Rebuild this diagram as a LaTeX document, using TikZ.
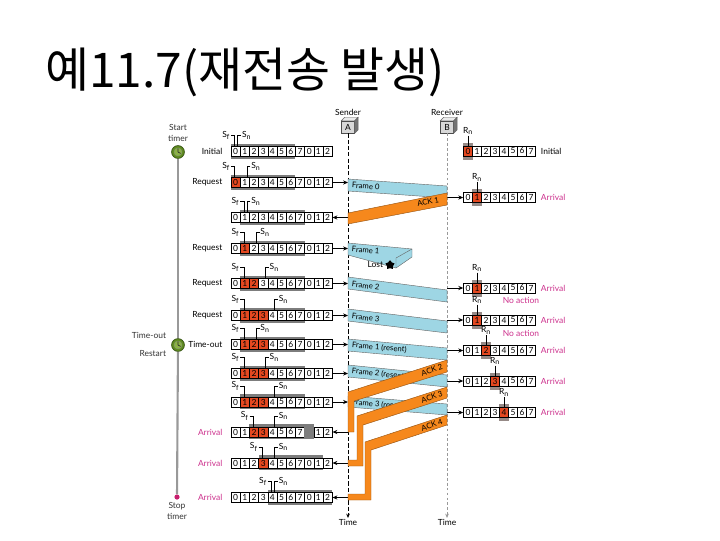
\documentclass[tikz,border=0pt]{standalone}
\usepackage{fontspec}
\setmainfont{Lato}
\newfontfamily\krfont{Noto Sans CJK KR}
\usepackage{tikz}
\usetikzlibrary{arrows.meta, shapes.geometric}
\definecolor{cellred}{RGB}{228,72,32}
\definecolor{wingray}{RGB}{125,125,125}
\definecolor{rngray}{RGB}{150,138,135}
\definecolor{framebl}{RGB}{158,214,228}
\definecolor{ackor}{RGB}{246,136,28}
\definecolor{arrpink}{RGB}{204,48,140}
\definecolor{tgreen}{RGB}{96,140,32}
\definecolor{tlight}{RGB}{140,178,70}
\definecolor{tdark}{RGB}{50,80,16}
\definecolor{boxgray}{RGB}{216,216,216}
\definecolor{stoppink}{RGB}{200,30,110}
\tikzset{
  cell/.style={rectangle, draw=black, fill=white, minimum width=0.23cm,
    minimum height=0.24cm, inner sep=0pt, line width=0.4pt,
    font=\fontsize{6}{7}\selectfont},
  rcell/.style={cell, minimum width=0.225cm},
  rowlbl/.style={anchor=east, font=\fontsize{6}{7}\selectfont, inner sep=1pt},
  ptr/.style={font=\fontsize{6}{7}\selectfont, inner sep=0.5pt},
  ptrline/.style={line width=0.4pt},
  arr/.style={-{Stealth[length=3.5pt,width=3pt]}, line width=0.6pt},
  framebar/.style={fill=framebl, draw=black!60, line width=0.3pt},
  ackbar/.style={fill=ackor, draw=black!40!ackor, line width=0.3pt},
  flbl/.style={anchor=west, font=\fontsize{5.5}{6}\selectfont, inner sep=0.5pt},
  albl/.style={font=\fontsize{5.5}{6}\selectfont, inner sep=0.5pt},
  side/.style={font=\fontsize{6}{7.8}\selectfont, align=center, inner sep=0.5pt, text=black!80},
  timer/.style={circle, fill=tgreen, draw=tdark, minimum size=0.32cm, inner sep=0pt, line width=0.5pt},
  hostbox/.style={rectangle, draw=black!70, fill=boxgray, minimum width=0.32cm,
    minimum height=0.3cm, inner sep=0pt, font=\fontsize{6}{7}\selectfont, line width=0.4pt},
  timeline/.style={draw=black!40, line width=1.5pt}
}
% sender window geometry (pixels)
\newcommand{\cx}{231}
\newcommand{\cw}{9.2}
% receiver window geometry
\newcommand{\rx}{463.5}
\newcommand{\rw}{9}
% #1 name, #2 y, #3 window start, #4-#5 red cells, #6 Sf, #7 Sn, #8 hidden cell
\newcommand{\sendrow}[8]{%
  \fill[wingray] ({\cx+#3*\cw},#2-8) rectangle ({\cx+(#3+7)*\cw},#2+7);
  \foreach \i in {0,...,10}{%
    \pgfmathtruncatemacro{\d}{mod(\i,8)}%
    \def\cf{white}\def\cd{black}%
    \ifnum\i<#4\relax\else\ifnum\i>#5\relax\else\def\cf{cellred}\fi\fi
    \ifnum\i=#8\relax\def\cf{wingray}\def\cd{wingray}\def\d{}\fi
    \node[cell, fill=\cf, draw=\cd] (#1-\i) at ({\cx+(\i+0.5)*\cw},#2) {\d};
  }%
  \node[ptr, anchor=east] (#1sf) at ({\cx+(#6+0.5)*\cw-4.5},#2-16) {S\textsubscript{f}};
  \node[ptr, anchor=west] (#1sn) at ({\cx+(#7+0.5)*\cw+5.5},#2-16) {S\textsubscript{n}};
  \draw[ptrline] (#1sf.east) -| ({\cx+(#6+0.5)*\cw-1},#2-5);
  \draw[ptrline] (#1sn.west) -| ({\cx+(#7+0.5)*\cw+2},#2-5);
}
% #1 name, #2 y, #3 Rn, #4 label, #5 label colour
\newcommand{\recvrow}[5]{%
  \fill[rngray] ({\rx+#3*\rw-0.5},#2-8.5) rectangle ({\rx+(#3+1)*\rw+0.5},#2+8.5);
  \foreach \i in {0,...,7}{%
    \def\cf{white}\ifnum\i=#3\relax\def\cf{cellred}\fi
    \node[rcell, fill=\cf] (#1-\i) at ({\rx+(\i+0.5)*\rw},#2) {\i};
  }%
  \node[ptr] (#1rn) at ({\rx+(#3+0.5)*\rw},#2-20) {R\textsubscript{n}};
  \draw[ptrline] (#1rn.south) -- (#1rn.south |- #1-#3.north);
  \node[ptr, anchor=west, text=#5] (#1lbl) at (540,#2) {#4};
}
% #1 name, #2 position
\newcommand{\timer}[2]{%
  \node[timer] (#1) at #2 {};
  \draw[fill=tlight, draw=tdark!60, line width=0.3pt] (#1.center) circle (0.1cm);
  \draw[black!85, line width=0.5pt] (#1.center) -- ++(0,-3.6) (#1.center) -- ++(2.6,1.4);
}

\begin{document}
\begin{tikzpicture}[x=0.025cm, y=-0.025cm]
  \useasboundingbox (0,0) rectangle (720,540);

  \node[anchor=base west, inner sep=0pt, font=\krfont\fontsize{34}{38}\selectfont] (title) at (45,87) {예11.7(재전송 발생)};

  % timer on the left
  \node[side] (st) at (178,133) {Start\\timer};
  \timer{t1}{(178,152)}
  \timer{t2}{(178,345)}
  \node[circle, fill=stoppink, inner sep=0pt, minimum size=0.13cm] (t3) at (177,497) {};
  \node[side] (sp) at (177,511) {Stop\\timer};
  \node[side, anchor=east] (to) at (167,335) {Time-out};
  \node[side, anchor=east] (rs) at (167,354) {Restart};
  \draw[timeline] (t1) -- (t2);
  \draw[timeline] (t2) -- (t3);

  % stations
  \node[hostbox] (A) at (348,127) {A};
  \node[hostbox] (B) at (447,127) {B};
  \foreach \h in {A,B}{
    \fill[white!92!black, draw=black!60, line width=0.3pt] (\h.north west) -- ++(3.5,-3.5) -- ([shift={(3.5,-3.5)}]\h.north east) -- (\h.north east) -- cycle;
    \fill[black!55, draw=black!60, line width=0.3pt] (\h.north east) -- ++(3.5,-3.5) -- ([shift={(3.5,-3.5)}]\h.south east) -- (\h.south east) -- cycle;
  }
  \node[ptr] (sname) at (348,112) {Sender};
  \node[ptr] (rname) at (447,112) {Receiver};
  \node[ptr] (tA) at (348,522) {Time};
  \node[ptr] (tB) at (447,522) {Time};
  \draw[line width=0.7pt, dash pattern=on 3pt off 1.5pt, -{Stealth[length=3pt,width=2.6pt]}] (A.south) -- (tA.north);
  \draw[black!40, line width=0.4pt, dash pattern=on 2pt off 1.5pt, -{Stealth[length=3pt,width=2.6pt]}] (B.south) -- (tB.north);
  \coordinate (sl) at (348,0);
  \coordinate (rl) at (447,0);

  % sender windows
  \sendrow{s1}{151.5}{0}{99}{-1}{0}{0}{-1}
  \sendrow{s2}{182.5}{0}{0}{0}{0}{1}{-1}
  \sendrow{s3}{217.5}{1}{99}{-1}{1}{1}{-1}
  \sendrow{s4}{248.5}{1}{1}{1}{1}{2}{-1}
  \sendrow{s5}{283.5}{1}{1}{2}{1}{3}{-1}
  \sendrow{s6}{315.5}{1}{1}{3}{1}{4}{-1}
  \sendrow{s7}{344.5}{1}{1}{3}{1}{2}{-1}
  \sendrow{s8}{373.5}{1}{1}{3}{1}{3}{-1}
  \sendrow{s9}{402}{1}{1}{3}{1}{4}{-1}
  \sendrow{s10}{432}{2}{2}{3}{2}{4}{8}
  \sendrow{s11}{463}{3}{3}{3}{3}{4}{-1}
  \sendrow{s12}{497.5}{4}{99}{-1}{4}{4}{-1}

  \node[rowlbl] (l1) at (224,151.5) {Initial};
  \node[rowlbl] (l2) at (224,182.5) {Request};
  \node[rowlbl] (l4) at (224,248.5) {Request};
  \node[rowlbl] (l5) at (224,283.5) {Request};
  \node[rowlbl] (l6) at (224,315.5) {Request};
  \node[rowlbl] (l7) at (224,344.5) {Time-out};
  \node[rowlbl, text=arrpink] (l10) at (224,432) {Arrival};
  \node[rowlbl, text=arrpink] (l11) at (224,463) {Arrival};
  \node[rowlbl, text=arrpink] (l12) at (224,497.5) {Arrival};

  \foreach \r in {2,4,5,6,7,8,9}
    \draw[arr] (s\r-10.east) -- (s\r-10.east -| sl);
  \foreach \r in {3,10,11,12}
    \draw[arr] (s\r-10.east -| sl) -- (s\r-10.east);

  % receiver windows
  \recvrow{r1}{151}{0}{Initial}{black}
  \recvrow{r2}{197.5}{1}{Arrival}{arrpink}
  \recvrow{r3}{288}{1}{Arrival}{arrpink}
  \recvrow{r4}{320}{1}{Arrival}{arrpink}
  \recvrow{r5}{350.5}{2}{Arrival}{arrpink}
  \recvrow{r6}{381}{3}{Arrival}{arrpink}
  \recvrow{r7}{412.5}{4}{Arrival}{arrpink}
  \node[ptr, text=arrpink] (na1) at (521,300) {No action};
  \node[ptr, text=arrpink] (na2) at (521,333) {No action};
  \foreach \r in {2,...,7}
    \draw[arr] (r\r-0.west -| rl) -- (r\r-0.west);

  % frames
  \draw[framebar] (348,179) -- (447,186) -- (447,198) -- (348,191) -- cycle;
  \draw[framebar] (348,243) -- (412,249) -- (412,257) -- (396,268) -- (348,255) -- cycle;
  \draw[black!60, line width=0.3pt] (396,258) -- (412,249) (396,258) -- (396,268);
  \draw[framebar] (348,277) -- (447,290) -- (447,302) -- (348,289) -- cycle;
  \draw[framebar] (348,309) -- (447,321) -- (447,333) -- (348,321) -- cycle;
  \draw[framebar] (348,339) -- (447,348) -- (447,360) -- (348,351) -- cycle;
  \draw[framebar] (348,365) -- (447,375) -- (447,387) -- (348,377) -- cycle;
  \draw[framebar] (348,396) -- (447,404) -- (447,415) -- (348,407) -- cycle;
  \node[flbl, rotate=-4] (f0) at (351,185) {Frame 0};
  \node[flbl, rotate=-5] (f1) at (351,249) {Frame 1};
  \node[flbl, rotate=-7] (f2) at (351,284) {Frame 2};
  \node[flbl, rotate=-7] (f3) at (351,316) {Frame 3};
  \node[flbl, rotate=-5] (f1r) at (351,345) {Frame 1 (resent)};
  \node[flbl, rotate=-6] (f2r) at (351,371) {Frame 2 (resent)};
  \node[flbl, rotate=-5] (f3r) at (351,402) {Frame 3 (resent)};
  \node[ptr, anchor=east] (lost) at (384,265) {Lost};
  \node[star, star points=5, fill=black, minimum size=0.24cm, inner sep=0pt] (lstar) at (390,265) {};

  % acknowledgments
  \draw[ackbar] (447,193) -- (447,205) -- (348,224) -- (348,213) -- cycle;
  \draw[ackbar] (447,360) -- (348,392) -- (348,432) -- (354,432) -- (354,401) -- (447,372) -- cycle;
  \draw[ackbar] (447,387) -- (357,416) -- (357,460) -- (348,460) -- (348,466) -- (363,466) -- (363,425) -- (447,398) -- cycle;
  \draw[ackbar] (447,415) -- (365,442) -- (365,494) -- (348,494) -- (348,500) -- (371,500) -- (371,450) -- (447,425) -- cycle;
  \node[albl, rotate=11] (a1) at (428,202) {ACK 1};
  \node[albl, rotate=18] (a2) at (432,370) {ACK 2};
  \node[albl, rotate=18] (a3) at (432,397) {ACK 3};
  \node[albl, rotate=18] (a4) at (432,425) {ACK 4};
\end{tikzpicture}
\end{document}
